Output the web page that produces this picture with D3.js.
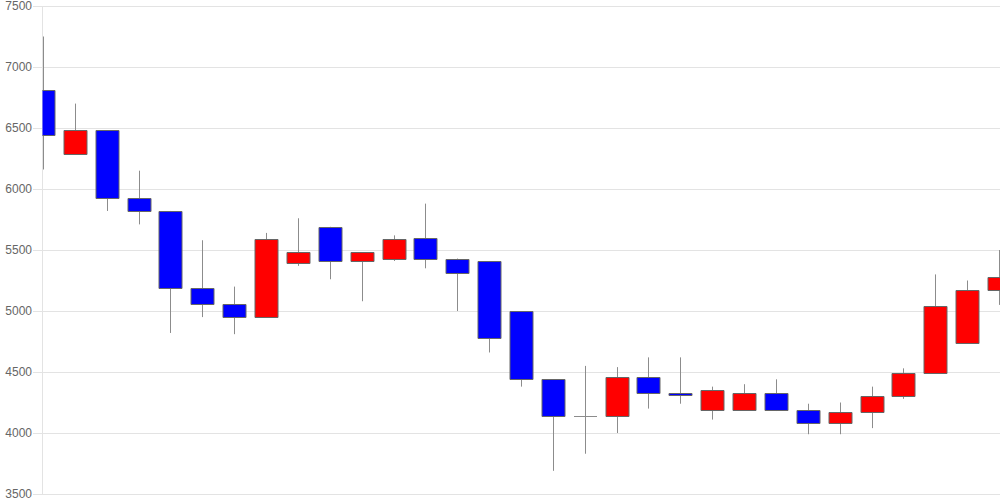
<!DOCTYPE html>
<html>
<head>
<meta charset="utf-8">
<script src="https://cdn.jsdelivr.net/npm/d3@7"></script>
<style>
  html, body { margin: 0; padding: 0; background: #fff; }
  svg { display: block; }
</style>
</head>
<body>
<svg id="chart" width="1000" height="500"></svg>
<script>
// ---- data ----
const candleIndex = d3.range(31);
const openValues  = [6810, 6290, 6480, 5930, 5820, 5190, 5060, 4950, 5390, 5690, 5410, 5430, 5600, 5430, 5410, 5000, 4440, 4140, 4140, 4460, 4330, 4190, 4190, 4330, 4190, 4080, 4170, 4300, 4490, 4740, 5170];
const closeValues = [6440, 6480, 5930, 5820, 5190, 5060, 4950, 5590, 5480, 5410, 5480, 5590, 5430, 5310, 4780, 4440, 4140, 4140, 4460, 4330, 4310, 4350, 4330, 4190, 4080, 4170, 4300, 4490, 5040, 5170, 5280];
const highValues  = [7250, 6700, 6480, 6150, 5820, 5580, 5200, 5640, 5760, 5690, 5480, 5620, 5880, 5430, 5410, 5000, 4440, 4550, 4540, 4620, 4620, 4380, 4400, 4440, 4240, 4250, 4380, 4530, 5300, 5250, 5500];
const lowValues   = [6160, 6290, 5820, 5710, 4820, 4950, 4810, 4950, 5370, 5260, 5080, 5410, 5350, 5000, 4660, 4380, 3690, 3830, 4000, 4200, 4240, 4110, 4190, 4180, 3990, 3990, 4040, 4280, 4490, 4740, 5050];
const yTickValues = [3500, 4000, 4500, 5000, 5500, 6000, 6500, 7000, 7500];

const data = candleIndex.map(i => ({
  i, open: openValues[i], close: closeValues[i], high: highValues[i], low: lowValues[i]
}));

// ---- layout ----
const W = 1000, H = 500;
const plotLeft = 43, plotRight = 1000, plotTop = 6, plotBottom = 494;

const svg = d3.select("#chart");

const x = d3.scalePoint().domain(candleIndex).range([43, 999]);
const y = d3.scaleLinear().domain([3500, 7500]).range([plotBottom, plotTop]);
const bodyW = 23;

// grid + labels
const axis = d3.axisLeft(y)
  .tickValues(yTickValues)
  .tickSizeInner(-(W - 33))
  .tickSizeOuter(0)
  .tickPadding(1)
  .tickFormat(d3.format("d"));

const gAxis = svg.append("g")
  .attr("transform", "translate(33,0)")
  .call(axis);
gAxis.select(".domain").remove();
gAxis.selectAll(".tick line").attr("stroke", "#e3e3e3").attr("shape-rendering", "crispEdges");
gAxis.selectAll(".tick text")
  .attr("fill", "#666")
  .style("font-family", "'Liberation Sans', Arial, sans-serif")
  .style("font-size", "12px");

// vertical axis line
svg.append("line")
  .attr("x1", plotLeft - 0.5).attr("x2", plotLeft - 0.5)
  .attr("y1", plotTop).attr("y2", plotBottom)
  .attr("stroke", "#e3e3e3");

// clip
svg.append("clipPath").attr("id", "plotclip")
  .append("rect")
  .attr("x", plotLeft - 0.5).attr("y", 0)
  .attr("width", plotRight - plotLeft + 0.5).attr("height", H);

const gC = svg.append("g").attr("clip-path", "url(#plotclip)");

const cx = d => Math.round(x(d.i)) + 0.5;

// wicks
gC.selectAll("line.wick").data(data).enter().append("line")
  .attr("class", "wick")
  .attr("x1", cx).attr("x2", cx)
  .attr("y1", d => y(d.high)).attr("y2", d => y(d.low))
  .attr("stroke", "#8c8c8c").attr("stroke-width", 1);

// bodies (path so that zero-height doji bodies still draw their outline)
gC.selectAll("path.body").data(data).enter().append("path")
  .attr("class", "body")
  .attr("d", d => {
    const x0 = Math.round(x(d.i)) - bodyW / 2 + 0.5;
    const y0 = Math.round(y(Math.max(d.open, d.close))) + 0.5;
    const h = Math.round(y(Math.min(d.open, d.close))) - Math.round(y(Math.max(d.open, d.close)));
    return `M${x0},${y0}h${bodyW}v${h}h${-bodyW}Z`;
  })
  .attr("fill", d => d.close > d.open ? "#ff0000" : (d.close < d.open ? "#0000ff" : "none"))
  .attr("stroke", d => d.close === d.open ? "#8c8c8c" : "#666")
  .attr("stroke-width", 1);
</script>
</body>
</html>
